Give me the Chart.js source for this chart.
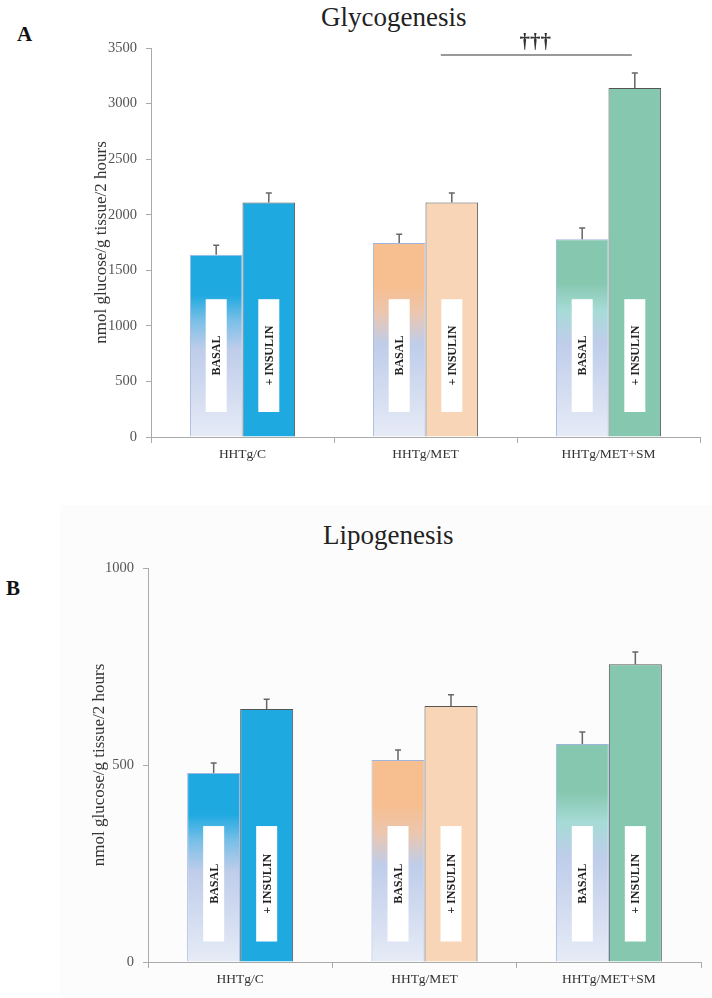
<!DOCTYPE html>
<html>
<head>
<meta charset="utf-8">
<script src="https://cdn.jsdelivr.net/npm/chart.js@4"></script>
<style>
  body { margin:0; background:#fff; width:712px; height:998px; position:relative; overflow:hidden; font-family:"Liberation Serif", serif; }
  .wrap { position:absolute; left:0; width:712px; }
  #wrapA { top:0; height:490px; }
  #wrapB { top:500px; height:498px; }
  #bgB { position:absolute; left:60px; top:505px; width:652px; height:493px; background:#fcfcfc; }
  .title { position:absolute; font-size:27px; line-height:1; color:#222; white-space:nowrap; }
  .panel { position:absolute; font-weight:bold; font-size:21px; line-height:1; color:#111; }
</style>
</head>
<body>
<div id="bgB"></div>
<div class="title" style="left:321px; top:4px;">Glycogenesis</div>
<div class="panel" style="left:17px; top:24px;">A</div>
<div class="title" style="left:323px; top:522px;">Lipogenesis</div>
<div class="panel" style="left:6px; top:578px;">B</div>
<div class="wrap" id="wrapA"><canvas id="chartA"></canvas></div>
<div class="wrap" id="wrapB"><canvas id="chartB"></canvas></div>
<script>
// data
const groups = ['HHTg/C', 'HHTg/MET', 'HHTg/MET+SM'];
const yTitle = 'nmol glucose/g tissue/2 hours';

const glycoBasal = [1640, 1745, 1780];
const glycoBasalErr = [85, 80, 100];
const glycoInsulin = [2110, 2110, 3140];
const glycoInsulinErr = [85, 85, 135];
const glycoTicks = [0, 500, 1000, 1500, 2000, 2500, 3000, 3500];

const lipoBasal = [480, 513, 553];
const lipoBasalErr = [25, 25, 31];
const lipoInsulin = [642, 650, 756];
const lipoInsulinErr = [25, 28, 31];
const lipoTicks = [0, 500, 1000];

// colours
const basalColors = ['#1fa9e1', '#f7be8f', '#86c7af'];
const basalMid = ['#79bfe7', '#ecc6ae', '#a6dbd6'];
const insulinColors = ['#1fa9e1', '#f9d5b7', '#86c7af'];

Chart.defaults.font.family = '"Liberation Serif", serif';

// Basal bars fade from the group colour into a pale lavender
function basalFill(ctx) {
  const chart = ctx.chart;
  const c = basalColors[ctx.dataIndex];
  if (!chart.chartArea || !chart.scales.y || ctx.type !== 'data') return c;
  const ys = chart.scales.y;
  const top = ys.getPixelForValue(ctx.raw);
  const bot = ys.getPixelForValue(0);
  if (!isFinite(top) || bot - top < 1) return c;
  const g = chart.ctx.createLinearGradient(0, top, 0, bot);
  g.addColorStop(0, c);
  g.addColorStop(0.22, c);
  g.addColorStop(0.36, basalMid[ctx.dataIndex]);
  g.addColorStop(0.52, '#bfcdea');
  g.addColorStop(1, '#e6ebf6');
  return g;
}

// white label boxes, error whiskers and the significance bracket
const extrasPlugin = {
  id: 'extras',
  afterDatasetsDraw(chart, args, opts) {
    const ctx = chart.ctx;
    const ys = chart.scales.y;
    ctx.save();
    chart.data.datasets.forEach((ds, di) => {
      const meta = chart.getDatasetMeta(di);
      meta.data.forEach((bar, i) => {
        const top = ys.getPixelForValue(opts.boxRange[1]);
        const bot = ys.getPixelForValue(opts.boxRange[0]);
        const w = 21;
        ctx.fillStyle = '#fff';
        ctx.fillRect(bar.x - w / 2, top, w, bot - top);
        ctx.save();
        ctx.translate(bar.x, (top + bot) / 2);
        ctx.rotate(-Math.PI / 2);
        ctx.fillStyle = '#222';
        ctx.font = 'bold 12px "Liberation Serif"';
        ctx.textAlign = 'center';
        ctx.textBaseline = 'middle';
        ctx.fillText(ds.boxText, 0, 1);
        ctx.restore();

        const ye = ys.getPixelForValue(ds.data[i] + ds.errors[i]);
        ctx.strokeStyle = '#666';
        ctx.lineWidth = 1.5;
        ctx.beginPath();
        ctx.moveTo(bar.x, bar.y);
        ctx.lineTo(bar.x, ye);
        ctx.moveTo(bar.x - 3, ye);
        ctx.lineTo(bar.x + 3, ye);
        ctx.stroke();
      });
    });
    if (opts.sig) {
      const s = opts.sig;
      const a = chart.getDatasetMeta(s.from[0]).data[s.from[1]];
      const b = chart.getDatasetMeta(s.to[0]).data[s.to[1]];
      const yy = ys.getPixelForValue(s.value);
      const x1 = a.x - 11, x2 = b.x - 3;
      ctx.strokeStyle = '#777';
      ctx.lineWidth = 1.5;
      ctx.beginPath();
      ctx.moveTo(x1, yy);
      ctx.lineTo(x2, yy);
      ctx.stroke();
      ctx.fillStyle = '#333';
      ctx.font = 'bold 21px "Liberation Serif"';
      ctx.textAlign = 'center';
      ctx.textBaseline = 'alphabetic';
      ctx.fillText(s.text, (x1 + x2) / 2 - 1, yy - 7);
    }
    ctx.restore();
  }
};

function makeChart(id, basal, basalErr, insulin, insulinErr, ticks, pad, axisW, extras) {
  return new Chart(document.getElementById(id), {
    type: 'bar',
    data: {
      labels: groups,
      datasets: [
        { label: 'BASAL', boxText: 'BASAL', data: basal, errors: basalErr,
          backgroundColor: basalFill, borderColor: '#9fb5de', borderWidth: 1 },
        { label: '+ INSULIN', boxText: '+ INSULIN', data: insulin, errors: insulinErr,
          backgroundColor: insulinColors, borderColor: '#555', borderWidth: 1 }
      ]
    },
    options: {
      responsive: true,
      maintainAspectRatio: false,
      animation: false,
      layout: { padding: pad },
      categoryPercentage: 0.575,
      barPercentage: 1,
      plugins: { legend: { display: false }, tooltip: { enabled: false }, extras: extras },
      scales: {
        x: {
          ticks: { color: '#333', font: { size: 13.5 }, padding: 3 },
          grid: { drawOnChartArea: false, tickLength: 6, color: '#aaa', offset: true },
          border: { color: '#aaa' },
          afterFit(s) { s.height = 30; }
        },
        y: {
          min: ticks[0],
          max: ticks[ticks.length - 1],
          afterBuildTicks(s) { s.ticks = ticks.map(v => ({ value: v })); },
          ticks: { color: '#555', font: { size: 14.5 }, padding: 9, callback: v => String(v) },
          grid: { drawOnChartArea: false, tickLength: 5, color: '#aaa' },
          border: { color: '#aaa' },
          title: { display: true, text: yTitle, color: '#333', font: { size: 17 }, padding: 0 },
          afterFit(s) { s.width = axisW; }
        }
      }
    },
    plugins: [extrasPlugin]
  });
}

makeChart('chartA', glycoBasal, glycoBasalErr, glycoInsulin, glycoInsulinErr, glycoTicks,
  { top: 48, left: 91, right: 12, bottom: 23 }, 60,
  { boxRange: [225, 1240], sig: { value: 3437, from: [1, 1], to: [1, 2], text: '†††' } });

makeChart('chartB', lipoBasal, lipoBasalErr, lipoInsulin, lipoInsulinErr, lipoTicks,
  { top: 68, left: 89, right: 11, bottom: 6 }, 59,
  { boxRange: [52, 345] });
</script>
</body>
</html>
